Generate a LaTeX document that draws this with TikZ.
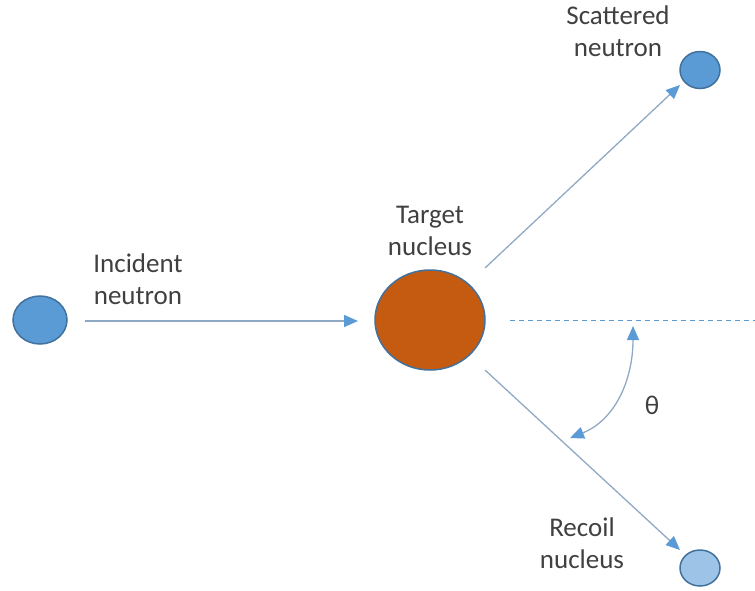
\documentclass[tikz,border=0pt]{standalone}
\usepackage{fontspec}
\setmainfont{Carlito}
\usetikzlibrary{arrows.meta,shapes.geometric}
\definecolor{nblue}{HTML}{5B9BD5}
\definecolor{nedge}{HTML}{41719C}
\definecolor{lblue}{HTML}{9DC3E6}
\definecolor{orng}{HTML}{C55A11}
\definecolor{txt}{HTML}{404040}
\definecolor{arr}{HTML}{8FA9C4}
\begin{document}
\begin{tikzpicture}[x=1pt,y=-1pt,
  ball/.style={ellipse,draw=nedge,line width=1.5pt,inner sep=0pt},
  lbl/.style={align=center,font=\fontsize{27}{32}\selectfont,text=txt},
  con/.style={draw=arr,line width=1.3pt,-{Triangle[length=14pt,width=12pt,color=nblue,fill=nblue]}}]
\useasboundingbox (0,0) rectangle (755,590);
\node[ball,fill=nblue,minimum width=54pt,minimum height=48pt] (inc) at (40,320) {};
\node[ball,fill=orng,minimum width=110pt,minimum height=100pt] (tgt) at (430,320) {};
\node[ball,fill=nblue,minimum width=40pt,minimum height=37pt] (sc) at (700,70) {};
\node[ball,fill=lblue,minimum width=40pt,minimum height=36pt] (rc) at (700,568) {};
\coordinate (a0) at (85,321);
\coordinate (a1) at (358,321);
\coordinate (s0) at (485,268);
\coordinate (s1) at (680,85);
\coordinate (r0) at (485,370);
\coordinate (r1) at (680,550);
\coordinate (d0) at (510,320);
\coordinate (d1) at (755,320);
\coordinate (t0) at (633,326);
\coordinate (t1) at (570,438);
\draw[con] (a0) -- (a1);
\draw[con] (s0) -- (s1);
\draw[con] (r0) -- (r1);
\draw[draw=nblue,line width=1pt,dash pattern=on 5pt off 4pt] (d0) -- (d1);
\draw[draw=arr,line width=1.3pt,{Triangle[length=14pt,width=12pt,color=nblue,fill=nblue]}-{Triangle[length=14pt,width=12pt,color=nblue,fill=nblue]}]
  (t0) .. controls (633,380) and (615,420) .. (t1);
\node[lbl] (linc) at (138,279) {Incident\\neutron};
\node[lbl] (ltgt) at (430,231) {Target\\nucleus};
\node[lbl] (lsc) at (618,31) {Scattered\\neutron};
\node[lbl] (lrc) at (582,543) {Recoil\\nucleus};
\node[text=txt,font=\fontsize{27}{30}\selectfont] (th) at (652,405) {θ};
\end{tikzpicture}
\end{document}
